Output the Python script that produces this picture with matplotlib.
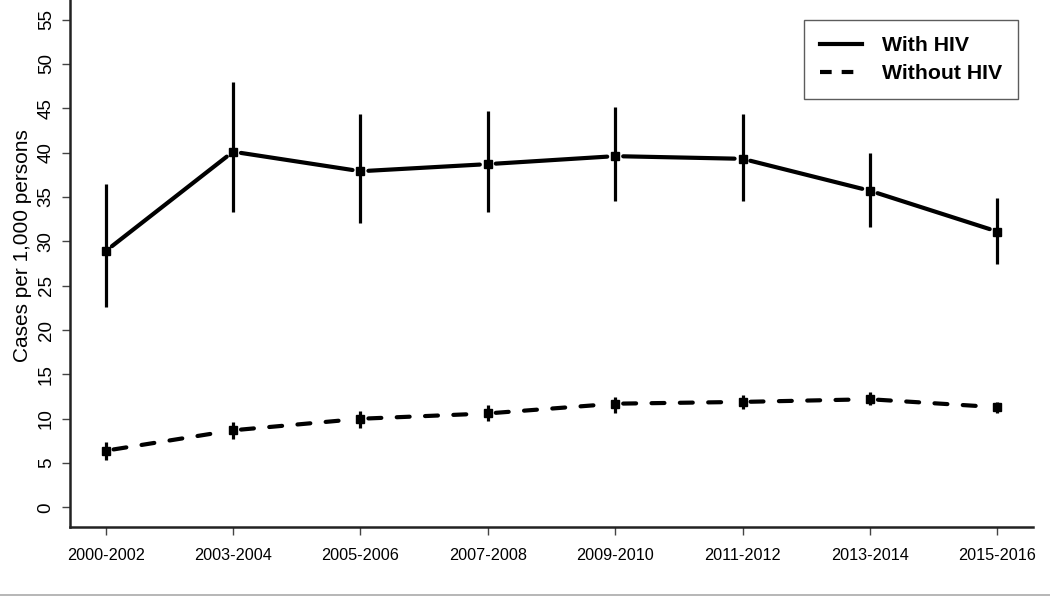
import matplotlib
matplotlib.use("Agg")
import matplotlib.pyplot as plt
from matplotlib.lines import Line2D
import numpy as np

periods = ["2000-2002", "2003-2004", "2005-2006", "2007-2008",
           "2009-2010", "2011-2012", "2013-2014", "2015-2016"]
hiv_rate = [28.9, 40.1, 37.9, 38.7, 39.6, 39.3, 35.7, 31.1]
hiv_low = [22.6, 33.3, 32.1, 33.3, 34.6, 34.6, 31.6, 27.5]
hiv_high = [36.5, 48.0, 44.4, 44.7, 45.1, 44.3, 40.0, 34.9]
nohiv_rate = [6.4, 8.7, 10.0, 10.6, 11.7, 11.9, 12.2, 11.3]
nohiv_low = [5.4, 7.7, 9.0, 9.7, 10.7, 11.1, 11.5, 10.6]
nohiv_high = [7.4, 9.6, 10.9, 11.5, 12.5, 12.7, 13.0, 11.9]
yticks = [0, 5, 10, 15, 20, 25, 30, 35, 40, 45, 50, 55]
legend_labels = ["With HIV", "Without HIV"]

plt.rcParams['font.family'] = ['Liberation Sans', 'DejaVu Sans']

fig = plt.figure(figsize=(10.5, 5.96), dpi=100)
ax = fig.add_axes([70/1050, 69/596, (1033-70)/1050, (596-69)/596])
ax.set_xlim(-0.28, 7.28)
ax.set_ylim(-2.2, 57.2)

x = np.arange(len(periods))
fig.canvas.draw()

LW = 3.0
GAP = 8.0  # px gap around points (R type="b")

def draw_series(vals, lows, highs, dashed):
    pts = ax.transData.transform(np.column_stack([x, vals]))
    inv = ax.transData.inverted()
    for i in range(len(vals) - 1):
        p0, p1 = pts[i], pts[i + 1]
        d = p1 - p0
        L = np.hypot(*d)
        t = GAP / L
        a = inv.transform(p0 + d * t)
        b = inv.transform(p1 - d * t)
        ln, = ax.plot([a[0], b[0]], [a[1], b[1]], color="black", lw=LW,
                      solid_capstyle="round", dash_capstyle="round")
        if dashed:
            ln.set_dashes((3.1, 3.7))
    ax.vlines(x, lows, highs, color="black", lw=2.3)
    ax.plot(x, vals, linestyle="none", marker="s", ms=5.2, color="black")

draw_series(hiv_rate, hiv_low, hiv_high, False)
draw_series(nohiv_rate, nohiv_low, nohiv_high, True)

for s in ["top", "right"]:
    ax.spines[s].set_visible(False)
for s in ["left", "bottom"]:
    ax.spines[s].set_linewidth(1.8)
    ax.spines[s].set_color("#222222")

ax.set_xticks(x)
ax.set_xticklabels(periods, fontsize=11.7)
ax.set_yticks(yticks)
ax.set_yticklabels([str(v) for v in yticks], fontsize=13.5, rotation=90, va="center")
ax.tick_params(axis="x", length=6, width=1, color="#444444", pad=9)
ax.tick_params(axis="y", length=6, width=1, color="#444444", pad=5)
ax.set_ylabel("Cases per 1,000 persons", fontsize=15)
ax.yaxis.set_label_coords((32 - 70) / 963, (527 - 246) / 527)

handles = [Line2D([0], [0], color="black", lw=LW),
           Line2D([0], [0], color="black", lw=LW, dashes=(2.8, 2.4),
                  dash_capstyle="butt")]
leg = ax.legend(handles, legend_labels, loc="upper right",
                bbox_to_anchor=(1018/1050, 1 - 20/596), bbox_transform=fig.transFigure,
                frameon=True, fancybox=False, handlelength=2.0, handletextpad=0.9,
                borderpad=0.77, labelspacing=0.41, borderaxespad=0,
                prop={"weight": "bold", "size": 15.3})
leg.get_frame().set_edgecolor("#333333")
leg.get_frame().set_linewidth(1.0)

fig.add_artist(Line2D([0, 1], [1.5/596, 1.5/596], color="#aaaaaa", lw=1.2,
                      transform=fig.transFigure))

fig.savefig("out.png", dpi=100)
